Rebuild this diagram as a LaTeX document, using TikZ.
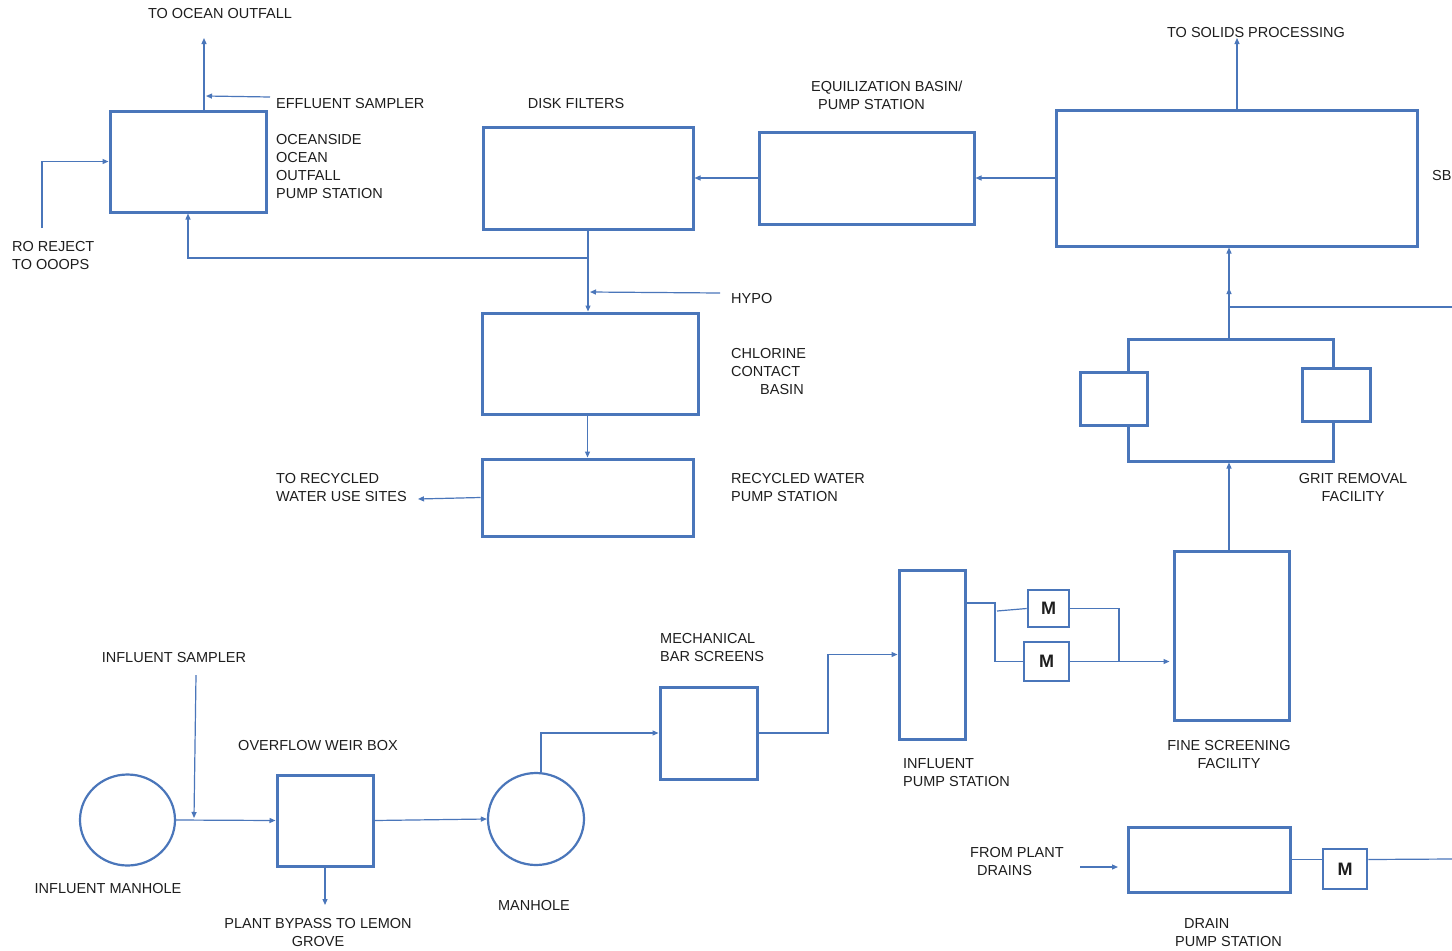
\documentclass[tikz,border=0pt]{standalone}
\usepackage{fontspec}
\setmainfont{Liberation Sans}
\usetikzlibrary{arrows.meta,shapes.geometric}
\definecolor{pipe}{RGB}{74,118,186}
\definecolor{ink}{RGB}{30,30,30}
\tikzset{
  box/.style={draw=pipe, line width=3pt, fill=white, inner sep=0pt, rectangle},
  hole/.style={draw=pipe, line width=2.2pt, ellipse, inner sep=0pt},
  conn/.style={draw=pipe, line width=1.2pt},
  arr/.style={conn, -{Triangle[length=6pt,width=5pt]}},
  lbl/.style={text=ink, inner sep=0pt, font=\fontsize{14.5}{18}\selectfont},
  mlbl/.style={text=ink, font=\bfseries\fontsize{18}{20}\selectfont}
}
\begin{document}
\begin{tikzpicture}[x=1pt,y=-1pt]
\useasboundingbox[fill=white] (0,0) rectangle (1452,951);

% ---------- boxes ----------
\node[box, minimum width=156pt, minimum height=101pt] (ooo) at (188,161.5) {};
\node[box, minimum width=210pt, minimum height=102pt] (df) at (588,178) {};
\node[box, minimum width=215pt, minimum height=92pt] (eq) at (866.5,178) {};
\node[box, minimum width=361pt, minimum height=136pt] (sbr) at (1236.5,178) {};
\node[box, minimum width=216pt, minimum height=101pt] (ccb) at (590,363.5) {};
\node[box, minimum width=211pt, minimum height=77pt] (rw) at (587.5,497.5) {};
\node[box, minimum width=205pt, minimum height=122pt] (grit) at (1230.5,400) {};
\node[box, minimum width=67pt, minimum height=53pt] (gl) at (1113.5,398.5) {};
\node[box, minimum width=68pt, minimum height=53pt] (gr) at (1336,394.5) {};
\node[box, minimum width=115pt, minimum height=169pt] (fs) at (1231.5,635.5) {};
\node[box, minimum width=66pt, minimum height=169pt] (ips) at (932,654.5) {};
\node[box, minimum width=41pt, minimum height=37pt, line width=2.6pt] (m1) at (1048.5,608.5) {};
\node[box, minimum width=45pt, minimum height=39pt, line width=2.6pt] (m2) at (1046.5,661.5) {};
\node[mlbl] (m1t) at (m1) {M};
\node[mlbl] (m2t) at (m2) {M};
\node[box, minimum width=97pt, minimum height=92pt] (bs) at (708.5,733) {};
\node[box, minimum width=96pt, minimum height=91pt] (weir) at (325,820.5) {};
\node[hole, minimum width=95pt, minimum height=91pt] (imh) at (127.5,820) {};
\node[hole, minimum width=96pt, minimum height=92pt] (mh) at (536,819) {};
\node[box, minimum width=162pt, minimum height=65pt] (dps) at (1209,859.5) {};
\node[box, minimum width=44pt, minimum height=40pt, line width=2.6pt] (md) at (1345,869) {};
\node[mlbl] (mdt) at (md) {M};

% ---------- labels ----------
\node[lbl] (t1) at (220,14) {TO OCEAN OUTFALL};
\node[lbl, anchor=west] (t2) at (276,104) {EFFLUENT SAMPLER};
\node[lbl, anchor=north west, align=left] (t3) at (276,134) {OCEANSIDE\\OCEAN\\OUTFALL\\PUMP STATION};
\node[lbl, anchor=north west, align=left] (t4) at (12,241) {RO REJECT\\TO OOOPS};
\node[lbl] (t5) at (576,104) {DISK FILTERS};
\node[lbl, anchor=north west, align=left] (t6) at (811,81) {EQUILIZATION BASIN/\\\hspace*{7pt}PUMP STATION};
\node[lbl] (t7) at (1256,33) {TO SOLIDS PROCESSING};
\node[lbl, anchor=west] (t8) at (1432,176) {SBR};
\node[lbl, anchor=west] (t9) at (731,299) {HYPO};
\node[lbl, anchor=north west, align=left] (t10) at (731,348) {CHLORINE\\CONTACT\\\hspace*{29pt}BASIN};
\node[lbl, anchor=north west, align=left] (t11) at (731,473) {RECYCLED WATER\\PUMP STATION};
\node[lbl, anchor=north west, align=left] (t12) at (276,473) {TO RECYCLED\\WATER USE SITES};
\node[lbl, anchor=north, align=center] (t13) at (1353,473) {GRIT REMOVAL\\FACILITY};
\node[lbl, anchor=north, align=center] (t14) at (1229,740) {FINE SCREENING\\FACILITY};
\node[lbl, anchor=north west, align=left] (t15) at (660,633) {MECHANICAL\\BAR SCREENS};
\node[lbl, anchor=north west, align=left] (t16) at (903,758) {INFLUENT\\PUMP STATION};
\node[lbl] (t17) at (174,657) {INFLUENT SAMPLER};
\node[lbl] (t18) at (318,745) {OVERFLOW WEIR BOX};
\node[lbl] (t19) at (108,888) {INFLUENT MANHOLE};
\node[lbl] (t20) at (534,905) {MANHOLE};
\node[lbl, anchor=north, align=center] (t21) at (318,918) {PLANT BYPASS TO LEMON\\GROVE};
\node[lbl, anchor=north west, align=left] (t22) at (970,847) {FROM PLANT\\\hspace*{7pt}DRAINS};
\node[lbl, anchor=north west, align=left] (t23) at (1175,918) {\hspace*{9pt}DRAIN\\PUMP STATION};

% ---------- free ends ----------
\coordinate (oceanout) at (204,38);
\coordinate (effsrc) at (270,97);
\coordinate (effjoin) at (206,96);
\coordinate (ro) at (42,228);
\coordinate (solids) at (1237,38);
\coordinate (ret) at (1452,307);
\coordinate (retj) at (1229,288);
\coordinate (hsrc) at (720,293);
\coordinate (hjoin) at (590,292);
\coordinate (split) at (588,258);
\coordinate (rwout) at (418,499);
\coordinate (isrc) at (196,675);
\coordinate (ijoin) at (194,818);
\coordinate (bypass) at (325,905);
\coordinate (fpd) at (1080,867);
\coordinate (fpdend) at (1118,867);
\coordinate (ipsout) at (965,603);
\coordinate (mj1) at (995,603);
\coordinate (mj2) at (997,611);
\coordinate (mj3) at (1119,661);
\coordinate (drainout) at (1452,859);

% ---------- connectors ----------
\draw[arr] (ooo.north -| oceanout) -- (oceanout);
\draw[arr] (effsrc) -- (effjoin);
\draw[arr] (ro) |- (ooo.west);
\draw[arr] (eq.west) -- (df.east);
\draw[arr] (sbr.west) -- (eq.east);
\draw[arr] (sbr.north -| solids) -- (solids);
\draw[arr] (df.south) -- (df.south |- ccb.north);
\draw[arr] (split) -| (ooo.south);
\draw[arr] (hsrc) -- (hjoin);
\draw[arr] (ccb.south -| rw.north) -- (rw.north);
\draw[arr] (rw.west) -- (rwout);
\draw[arr] (grit.north -| retj) -- (sbr.south -| retj);
\draw[arr] (ret) -| (retj);
\draw[arr] (fs.north -| retj) -- (grit.south -| retj);
\draw[conn] (ipsout) -- (mj1) |- (m2.west);
\draw[conn] (mj2) -- (m1.west);
\draw[conn] (m1.east) -| (mj3);
\draw[arr, shorten >=3pt] (m2.east) -- (fs.west |- m2.east);
\draw[arr] (bs.east) -- (828,733) |- (ips.west);
\draw[arr] ([xshift=5pt]mh.north) |- (bs.west);
\draw[arr] (imh.east) -- (weir.west);
\draw[arr] (isrc) -- (ijoin);
\draw[arr] (weir.east) -- (mh.west);
\draw[arr] (weir.south) -- (bypass);
\draw[arr] (fpd) -- (fpdend);
\draw[conn] (dps.east) -- (dps.east -| md.west);
\draw[conn] (md.east |- dps.east) -- (drainout);
\end{tikzpicture}
\end{document}
